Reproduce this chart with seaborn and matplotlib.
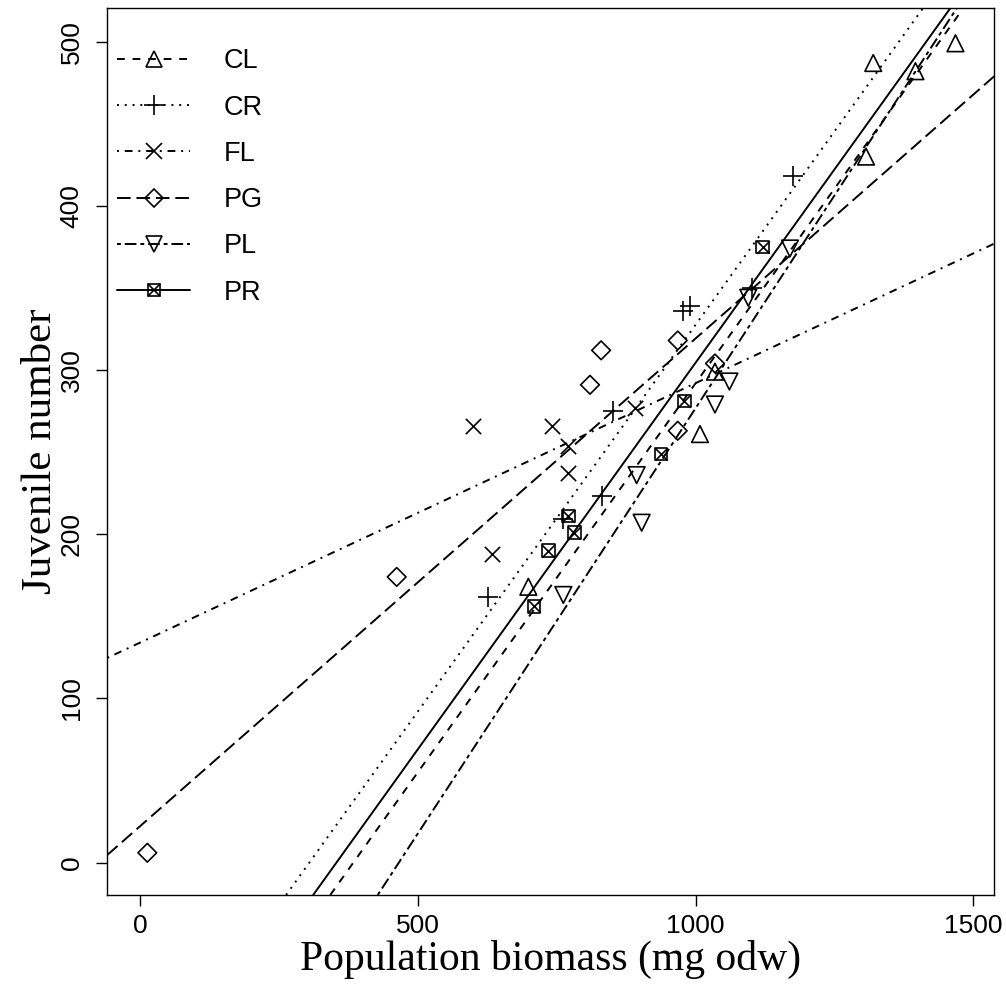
import matplotlib
matplotlib.use('Agg')
import matplotlib.pyplot as plt
from matplotlib.lines import Line2D
from matplotlib.legend_handler import HandlerTuple
import pandas as pd
import seaborn as sns

# populations
groups = ['CL', 'CR', 'FL', 'PG', 'PL', 'PR']

# population biomass (mg odw) and juvenile number
cl_x = [699, 1008, 1035, 1307, 1320, 1396, 1468]
cl_y = [168, 261, 299, 430, 487, 482, 499]
cr_x = [627, 761, 831, 852, 978, 990, 1101, 1175]
cr_y = [162, 209, 223, 275, 336, 339, 350, 418]
fl_x = [600, 633, 741, 771, 771, 891]
fl_y = [266, 188, 266, 254, 237, 277]
pg_x = [13, 462, 810, 830, 968, 968, 1035]
pg_y = [6, 174, 291, 312, 318, 263, 304]
pl_x = [762, 894, 903, 1035, 1061, 1095, 1170]
pl_y = [163, 236, 207, 279, 293, 344, 374]
pr_x = [709, 735, 771, 782, 938, 980, 1121]
pr_y = [156, 190, 211, 201, 249, 281, 375]

# fitted lines (intercept, slope)
intercepts = [-181.9, -143.5, 134.0, 22.2, -241.3, -166.4]
slopes = [0.4738, 0.471, 0.158, 0.297, 0.518, 0.4708]

xs = [cl_x, cr_x, fl_x, pg_x, pl_x, pr_x]
ys = [cl_y, cr_y, fl_y, pg_y, pl_y, pr_y]
df = pd.concat([pd.DataFrame({'biomass': x, 'juv': y, 'pop': g})
                for g, x, y in zip(groups, xs, ys)], ignore_index=True)

# R style line types: dashed, dotted, dotdash, longdash, twodash, solid
dashes = [(4, 4), (1, 3), (1, 3, 4, 3), (7, 3), (2, 2, 6, 2), None]
markers = ['^', '+', 'x', 'D', 'v', 's']
msizes = [12, 14, 11, 9.5, 12, 9]
LW = 1.4
MEW = 1.2

sns.set_style('ticks', rc={'text.color': 'black', 'axes.labelcolor': 'black',
                           'xtick.color': 'black', 'ytick.color': 'black'})
plt.rcParams['font.family'] = ['Liberation Sans', 'DejaVu Sans']

fig = plt.figure(figsize=(10.06, 9.9), dpi=100)
ax = fig.add_axes([0.1067, 0.0960, 0.8817, 0.8956])
ax.set_xlim(-59, 1538)
ax.set_ylim(-19.7, 520.3)

for g, b, m, d in zip(groups, intercepts, slopes, dashes):
    ln = ax.axline((0, b), slope=m, color='black', lw=LW)
    if d is not None:
        ln.set_dashes(d)

for g, mk, ms in zip(groups, markers, msizes):
    sub = df[df['pop'] == g]
    if mk in ('+', 'x'):
        sns.scatterplot(data=sub, x='biomass', y='juv', marker=mk, s=ms ** 2,
                        color='black', linewidth=MEW, ax=ax, zorder=3)
    else:
        sns.scatterplot(data=sub, x='biomass', y='juv', marker=mk, s=ms ** 2,
                        facecolor='none', edgecolor='black', linewidth=MEW,
                        ax=ax, zorder=3)
    if g == 'PR':
        sns.scatterplot(data=sub, x='biomass', y='juv', marker='x', s=ms ** 2,
                        color='black', linewidth=MEW, ax=ax, zorder=3)

ax.set_xticks([0, 500, 1000, 1500])
ax.set_yticks([0, 100, 200, 300, 400, 500])
ax.tick_params(axis='both', direction='out', length=8, width=1, color='black',
               labelsize=19, labelcolor='black')
ax.tick_params(axis='x', pad=6)
ax.tick_params(axis='y', pad=9, labelrotation=90)
for t in ax.get_yticklabels():
    t.set_va('center')
for sp in ax.spines.values():
    sp.set_visible(True)
    sp.set_color('black')
    sp.set_linewidth(1)

ax.set_xlabel('Population biomass (mg odw)', family='Liberation Serif',
              fontsize=30, labelpad=1)
ax.set_ylabel('Juvenile number', family='Liberation Serif', fontsize=31,
              labelpad=0)

handles = []
for g, mk, ms, d in zip(groups, markers, msizes, dashes):
    h = Line2D([], [], color='black', lw=LW, marker=mk, ms=ms, mfc='none',
               mec='black', mew=MEW)
    if d is not None:
        h.set_dashes(d)
    if g == 'PR':
        h2 = Line2D([], [], color='black', lw=0, marker='x', ms=ms, mew=MEW)
        h = (h, h2)
    handles.append(h)
ax.legend(handles, groups, loc='upper left', bbox_to_anchor=(0.011, 0.955),
          frameon=False, fontsize=19.5, handlelength=2.7, handletextpad=1.25,
          labelspacing=0.75, borderpad=0, borderaxespad=0,
          handler_map={tuple: HandlerTuple(ndivide=1)})

fig.savefig('out.png', dpi=100)
